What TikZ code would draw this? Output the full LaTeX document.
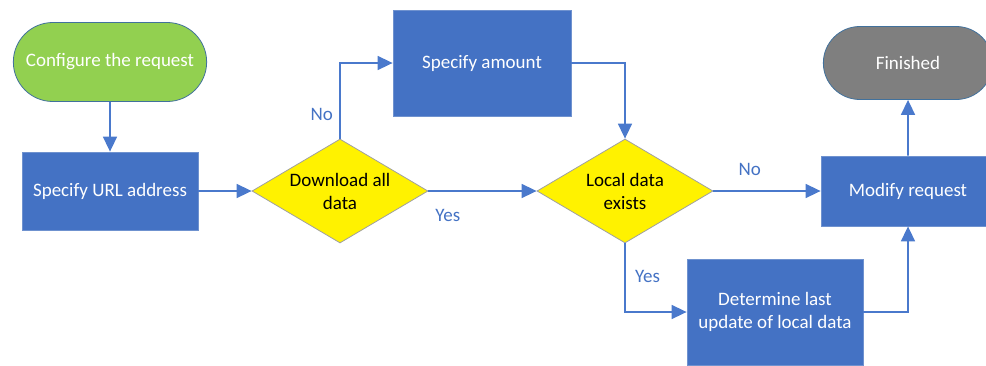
\documentclass[tikz,border=0pt]{standalone}
\usepackage{fontspec}
\setmainfont{Carlito}
\usetikzlibrary{arrows.meta, shapes.geometric, shapes.misc}

\definecolor{boxblue}{HTML}{4472C4}
\definecolor{boxedge}{HTML}{6F92CF}
\definecolor{lineblue}{HTML}{4A79CC}
\definecolor{startgreen}{HTML}{92D050}
\definecolor{endgray}{HTML}{7F7F7F}
\definecolor{termedge}{HTML}{41719C}
\definecolor{diaedge}{HTML}{A0A0A0}

\tikzset{
	process/.style={rectangle, draw=boxedge, fill=boxblue, text=white, line width=0.8pt, minimum width=176pt, minimum height=78pt, align=center},
	decision/.style={diamond, draw=diaedge, fill=yellow, text=black, line width=0.8pt, aspect=1.7, inner sep=0pt, minimum width=176pt, minimum height=104pt, align=center},
	terminal/.style={rounded rectangle, draw=termedge, text=white, line width=0.8pt},
	answer/.style={text=boxblue},
	elbow/.style={to path={|- (\tikztotarget) \tikztonodes}},
	side/.style={to path={-| (\tikztotarget) \tikztonodes}}
}

\begin{document}
\begin{tikzpicture}[->, >={Triangle[length=15pt, width=14pt]}, x=1pt, y=-1pt, color=lineblue, line width=1.6pt, font=\fontsize{19}{23}\selectfont]
		\useasboundingbox (0, 0) rectangle (986, 365);

		\node[terminal, fill=startgreen, minimum width=200pt, minimum height=79pt] (start) at (110, 62) {Configure the request};
		\node[process] (url) at (110, 191) {Specify URL address};
		\node[decision] (dl) at (340, 191) {Download all\\data};
		\node[process, minimum width=178pt, minimum height=106pt] (amount) at (482, 63) {Specify amount};
		\node[decision] (local) at (625, 191) {Local data\\exists};
		\node[process, minimum width=174pt, minimum height=70pt] (modify) at (908, 191) {Modify request};
		\node[terminal, fill=endgray, minimum width=176pt, minimum height=73pt] (end) at (908, 63) {Finished};
		\node[process, minimum width=176pt, minimum height=106pt] (update) at (775, 312) {Determine last\\update of local data};

		\path (start) edge (url)
			(url) edge (dl)
			(dl) edge[elbow] node[answer, pos=0.16, left=3pt] {No} (amount)
			(dl) edge node[answer, pos=0.18, below=14pt] {Yes} (local)
			(amount) edge[side] (local)
			(local) edge node[answer, pos=0.34, above=11pt] {No} (modify)
			(local) edge[elbow] node[answer, pos=0.24, right=6pt] {Yes} (update)
			(update) edge[side] (modify)
			(modify) edge (end);
	\end{tikzpicture}
\end{document}
